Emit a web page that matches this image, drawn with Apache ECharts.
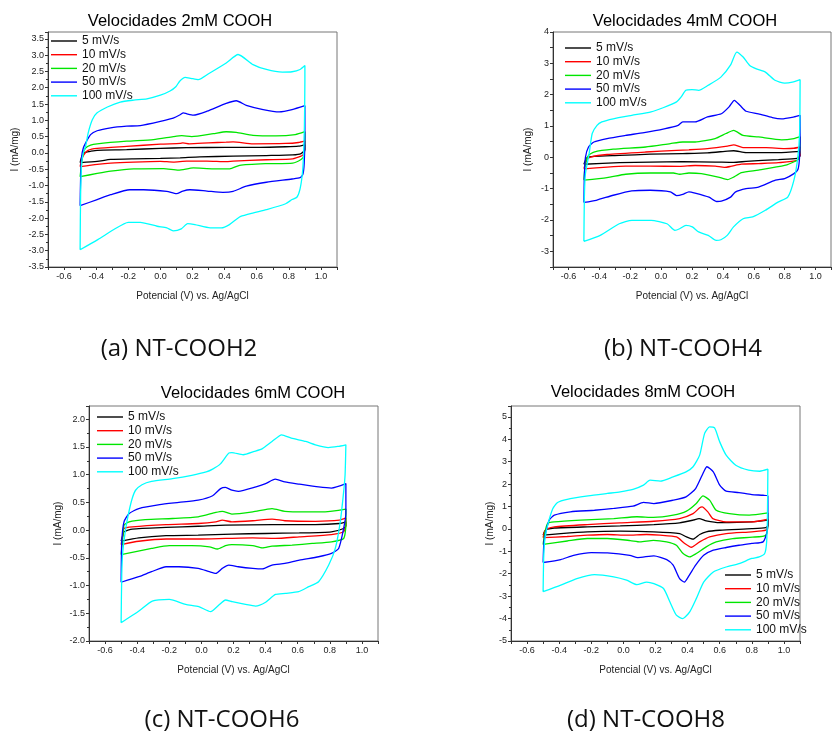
<!DOCTYPE html>
<html>
<head>
<meta charset="utf-8">
<script src="https://cdn.jsdelivr.net/npm/echarts@6/dist/echarts.min.js"></script>
<style>
  html, body { margin: 0; padding: 0; background: #fff; }
  #chart { width: 834px; height: 735px; }
</style>
</head>
<body>
<div id="chart"></div>
<script>
// scan rates / legend entries
var rates = ['5 mV/s', '10 mV/s', '20 mV/s', '50 mV/s', '100 mV/s'];
var titles = ['Velocidades 2mM COOH', 'Velocidades 4mM COOH', 'Velocidades 6mM COOH', 'Velocidades 8mM COOH'];
var captions = ['(a) NT-COOH2', '(b) NT-COOH4', '(c) NT-COOH6', '(d) NT-COOH8'];

// each curve = [potential (V), current (mA/mg)], forward scan then reverse scan
// 2mM
var A5 = [[-0.5,-0.3],[-0.49,-0.12],[-0.475,-0.01],[-0.466,0.02],[-0.435,0.05],[-0.394,0.08],[-0.21,0.1],[0,0.14],[0.164,0.16],[0.41,0.17],[0.62,0.17],[0.78,0.19],[0.86,0.21],[0.9,0.25],
  [0.9,0.1],[0.876,-0.02],[0.824,-0.06],[0.66,-0.08],[0.453,-0.1],[0.246,-0.12],[0.123,-0.15],[0,-0.17],[-0.166,-0.18],[-0.31,-0.2],[-0.394,-0.26],[-0.5,-0.3]];
var A10 = [[-0.5,-0.42],[-0.49,-0.2],[-0.476,-0.05],[-0.451,0.08],[-0.394,0.14],[-0.21,0.2],[0,0.27],[0.123,0.29],[0.14,0.31],[0.18,0.28],[0.3,0.31],[0.41,0.33],[0.453,0.34],[0.577,0.28],[0.78,0.29],[0.86,0.32],[0.9,0.37],
  [0.9,0.15],[0.89,-0.05],[0.876,-0.1],[0.824,-0.18],[0.66,-0.21],[0.453,-0.25],[0.412,-0.27],[0.29,-0.25],[0.164,-0.25],[0.08,-0.28],[0,-0.26],[-0.166,-0.28],[-0.31,-0.31],[-0.394,-0.35],[-0.5,-0.42]];
var A20 = [[-0.5,-0.73],[-0.49,-0.3],[-0.48,0.0],[-0.466,0.15],[-0.435,0.24],[-0.394,0.28],[-0.21,0.36],[-0.043,0.41],[0.08,0.5],[0.133,0.53],[0.195,0.5],[0.33,0.59],[0.41,0.65],[0.473,0.63],[0.577,0.54],[0.72,0.52],[0.84,0.56],[0.9,0.65],
  [0.9,0.3],[0.893,-0.1],[0.876,-0.2],[0.824,-0.31],[0.66,-0.33],[0.494,-0.38],[0.432,-0.49],[0.33,-0.49],[0.205,-0.46],[0.112,-0.53],[0.02,-0.48],[-0.166,-0.49],[-0.31,-0.56],[-0.394,-0.63],[-0.5,-0.73]];
var A50 = [[-0.5,-1.62],[-0.497,-0.8],[-0.49,-0.1],[-0.48,0.15],[-0.466,0.3],[-0.435,0.56],[-0.394,0.68],[-0.31,0.77],[-0.21,0.82],[-0.125,0.84],[0,0.97],[0.08,1.07],[0.123,1.17],[0.143,1.23],[0.165,1.2],[0.205,1.16],[0.29,1.28],[0.41,1.52],[0.473,1.6],[0.535,1.46],[0.64,1.33],[0.74,1.26],[0.82,1.33],[0.9,1.45],
  [0.9,0.5],[0.896,-0.3],[0.888,-0.65],[0.87,-0.76],[0.82,-0.8],[0.66,-0.9],[0.535,-1.02],[0.453,-1.18],[0.39,-1.21],[0.29,-1.17],[0.184,-1.13],[0.14,-1.17],[0.1,-1.25],[0.04,-1.18],[-0.105,-1.13],[-0.19,-1.13],[-0.31,-1.28],[-0.394,-1.43],[-0.5,-1.62]];
var A100 = [[-0.5,-2.97],[-0.497,-1.3],[-0.49,-0.3],[-0.48,0.0],[-0.466,0.2],[-0.45,0.61],[-0.424,1.02],[-0.394,1.23],[-0.33,1.41],[-0.25,1.56],[-0.166,1.62],[-0.084,1.66],[0,1.77],[0.06,1.9],[0.096,2.03],[0.12,2.2],[0.154,2.32],[0.19,2.29],[0.236,2.25],[0.3,2.43],[0.41,2.76],[0.484,3.02],[0.577,2.71],[0.66,2.56],[0.76,2.48],[0.82,2.49],[0.87,2.56],[0.9,2.68],
  [0.9,2.2],[0.897,0.8],[0.892,0.0],[0.885,-0.6],[0.87,-1.1],[0.85,-1.36],[0.82,-1.43],[0.78,-1.56],[0.66,-1.74],[0.58,-1.84],[0.5,-1.95],[0.47,-2.05],[0.43,-2.2],[0.38,-2.3],[0.31,-2.3],[0.215,-2.2],[0.17,-2.17],[0.13,-2.33],[0.08,-2.39],[0.04,-2.3],[-0.02,-2.25],[-0.125,-2.13],[-0.2,-2.13],[-0.29,-2.35],[-0.39,-2.66],[-0.5,-2.97]];

// 4mM
var B5 = [[-0.5,-0.22],[-0.48,-0.01],[-0.435,0.03],[-0.27,0.06],[-0.07,0.1],[0.14,0.12],[0.3,0.14],[0.43,0.2],[0.47,0.21],[0.55,0.15],[0.76,0.15],[0.9,0.19],
  [0.9,0.05],[0.88,-0.03],[0.76,-0.07],[0.55,-0.13],[0.47,-0.16],[0.35,-0.15],[0.14,-0.14],[-0.07,-0.15],[-0.27,-0.17],[-0.5,-0.22]];
var B10 = [[-0.5,-0.36],[-0.48,-0.07],[-0.456,0.01],[-0.35,0.09],[-0.1,0.17],[0.1,0.22],[0.18,0.24],[0.3,0.28],[0.43,0.36],[0.47,0.4],[0.53,0.31],[0.68,0.31],[0.8,0.28],[0.86,0.29],[0.9,0.33],
  [0.9,0.1],[0.88,-0.1],[0.76,-0.17],[0.63,-0.2],[0.52,-0.22],[0.45,-0.29],[0.41,-0.32],[0.35,-0.28],[0.22,-0.26],[0.12,-0.29],[-0.07,-0.28],[-0.23,-0.28],[-0.35,-0.31],[-0.5,-0.37]];
var B20 = [[-0.5,-0.72],[-0.49,-0.2],[-0.47,0.06],[-0.435,0.17],[-0.31,0.26],[-0.1,0.33],[0.06,0.44],[0.14,0.49],[0.22,0.49],[0.35,0.6],[0.42,0.76],[0.47,0.86],[0.53,0.7],[0.63,0.65],[0.78,0.56],[0.86,0.6],[0.9,0.66],
  [0.9,0.3],[0.89,-0.05],[0.88,-0.1],[0.8,-0.26],[0.63,-0.41],[0.52,-0.49],[0.47,-0.63],[0.43,-0.71],[0.37,-0.63],[0.26,-0.52],[0.18,-0.5],[0.12,-0.54],[0.08,-0.5],[-0.07,-0.5],[-0.23,-0.54],[-0.35,-0.65],[-0.5,-0.73]];
var B50 = [[-0.5,-1.44],[-0.497,-0.6],[-0.49,0.0],[-0.47,0.33],[-0.435,0.49],[-0.35,0.6],[-0.23,0.7],[-0.11,0.79],[0.02,0.91],[0.11,1.02],[0.14,1.13],[0.18,1.13],[0.22,1.13],[0.3,1.29],[0.39,1.39],[0.44,1.61],[0.474,1.82],[0.51,1.66],[0.55,1.47],[0.63,1.39],[0.72,1.27],[0.78,1.23],[0.86,1.29],[0.9,1.34],
  [0.9,0.5],[0.895,-0.1],[0.885,-0.4],[0.86,-0.52],[0.8,-0.68],[0.74,-0.73],[0.63,-0.95],[0.55,-1.0],[0.48,-1.11],[0.45,-1.27],[0.39,-1.4],[0.36,-1.41],[0.31,-1.27],[0.22,-1.14],[0.18,-1.1],[0.14,-1.18],[0.1,-1.22],[0.06,-1.1],[-0.07,-1.05],[-0.19,-1.07],[-0.31,-1.21],[-0.42,-1.37],[-0.5,-1.44]];
var B100 = [[-0.5,-2.68],[-0.497,-1.3],[-0.49,-0.52],[-0.466,0.12],[-0.446,0.76],[-0.415,1.02],[-0.384,1.13],[-0.31,1.23],[-0.19,1.34],[-0.065,1.45],[0.017,1.59],[0.1,1.77],[0.13,1.93],[0.16,2.14],[0.2,2.16],[0.243,2.14],[0.305,2.3],[0.387,2.56],[0.449,2.94],[0.49,3.36],[0.531,3.2],[0.572,2.94],[0.613,2.83],[0.675,2.72],[0.737,2.46],[0.8,2.37],[0.85,2.4],[0.9,2.48],
  [0.897,0.8],[0.885,0.0],[0.86,-0.73],[0.82,-1.27],[0.757,-1.43],[0.675,-1.69],[0.593,-1.9],[0.531,-1.96],[0.469,-2.22],[0.428,-2.49],[0.387,-2.63],[0.356,-2.65],[0.305,-2.49],[0.243,-2.38],[0.202,-2.22],[0.161,-2.17],[0.12,-2.28],[0.089,-2.33],[0.038,-2.12],[-0.065,-2.01],[-0.189,-2.01],[-0.271,-2.12],[-0.394,-2.49],[-0.5,-2.68]];

// 6mM
var C5 = [[-0.5,-0.2],[-0.49,-0.1],[-0.482,-0.03],[-0.43,0.02],[-0.22,0.05],[-0.02,0.07],[0.15,0.09],[0.44,0.1],[0.71,0.1],[0.86,0.12],[0.9,0.15],
  [0.9,0.08],[0.886,0.03],[0.81,-0.03],[0.61,-0.05],[0.4,-0.06],[0.19,-0.07],[-0.02,-0.09],[-0.22,-0.1],[-0.39,-0.14],[-0.5,-0.2]];
var C10 = [[-0.5,-0.26],[-0.49,-0.1],[-0.482,0.03],[-0.43,0.06],[-0.22,0.1],[-0.02,0.12],[0.09,0.15],[0.13,0.18],[0.19,0.15],[0.32,0.17],[0.44,0.2],[0.52,0.17],[0.71,0.16],[0.86,0.18],[0.9,0.22],
  [0.9,0.1],[0.886,-0.03],[0.81,-0.08],[0.61,-0.12],[0.46,-0.15],[0.32,-0.14],[0.15,-0.15],[-0.02,-0.16],[-0.22,-0.16],[-0.39,-0.2],[-0.5,-0.26]];
var C20 = [[-0.5,-0.44],[-0.49,-0.15],[-0.482,0.09],[-0.45,0.15],[-0.35,0.19],[-0.18,0.21],[-0.02,0.24],[0.09,0.32],[0.13,0.34],[0.19,0.29],[0.32,0.33],[0.44,0.39],[0.52,0.34],[0.65,0.33],[0.77,0.33],[0.9,0.38],
  [0.9,0.1],[0.886,-0.15],[0.81,-0.21],[0.69,-0.24],[0.565,-0.27],[0.44,-0.29],[0.38,-0.32],[0.32,-0.28],[0.19,-0.26],[0.15,-0.28],[0.1,-0.34],[0.05,-0.3],[-0.06,-0.28],[-0.2,-0.28],[-0.31,-0.33],[-0.5,-0.44]];
var C50 = [[-0.5,-0.94],[-0.496,-0.21],[-0.482,0.15],[-0.45,0.3],[-0.39,0.39],[-0.26,0.46],[-0.14,0.5],[-0.02,0.54],[0.07,0.62],[0.12,0.75],[0.15,0.77],[0.19,0.72],[0.23,0.7],[0.34,0.78],[0.4,0.84],[0.46,0.92],[0.52,0.87],[0.61,0.83],[0.73,0.78],[0.81,0.76],[0.9,0.84],
  [0.9,0.3],[0.886,0.03],[0.855,-0.33],[0.81,-0.42],[0.73,-0.48],[0.61,-0.54],[0.52,-0.6],[0.44,-0.63],[0.38,-0.7],[0.32,-0.69],[0.23,-0.66],[0.17,-0.63],[0.13,-0.69],[0.09,-0.78],[0.05,-0.75],[-0.02,-0.69],[-0.14,-0.66],[-0.22,-0.66],[-0.31,-0.75],[-0.39,-0.84],[-0.5,-0.94]];
var C100 = [[-0.5,-1.67],[-0.496,-0.8],[-0.49,-0.4],[-0.47,0.05],[-0.45,0.35],[-0.43,0.58],[-0.41,0.72],[-0.37,0.82],[-0.31,0.88],[-0.18,0.93],[-0.06,0.99],[0.03,1.05],[0.07,1.1],[0.12,1.2],[0.17,1.39],[0.19,1.4],[0.26,1.36],[0.33,1.42],[0.38,1.47],[0.44,1.6],[0.5,1.72],[0.56,1.66],[0.65,1.6],[0.71,1.54],[0.79,1.49],[0.85,1.51],[0.9,1.54],
  [0.895,1.0],[0.886,0.69],[0.865,0.15],[0.834,-0.33],[0.793,-0.63],[0.73,-0.93],[0.668,-1.02],[0.606,-1.11],[0.523,-1.14],[0.461,-1.16],[0.4,-1.3],[0.337,-1.37],[0.275,-1.34],[0.192,-1.29],[0.15,-1.26],[0.109,-1.35],[0.057,-1.47],[-0.016,-1.38],[-0.098,-1.34],[-0.2,-1.25],[-0.306,-1.28],[-0.389,-1.46],[-0.5,-1.67]];

// 8mM
var D5 = [[-0.5,-0.28],[-0.49,-0.1],[-0.472,-0.01],[-0.43,0.04],[-0.225,0.09],[-0.02,0.13],[0.19,0.19],[0.35,0.27],[0.434,0.39],[0.471,0.46],[0.516,0.36],[0.6,0.28],[0.8,0.31],[0.9,0.39],
  [0.9,0.15],[0.887,0.06],[0.8,0.01],[0.6,-0.06],[0.516,-0.13],[0.475,-0.25],[0.434,-0.46],[0.393,-0.36],[0.351,-0.21],[0.19,-0.13],[-0.02,-0.1],[-0.225,-0.13],[-0.39,-0.21],[-0.5,-0.28]];
var D10 = [[-0.5,-0.39],[-0.49,-0.1],[-0.472,0.01],[-0.43,0.09],[-0.225,0.19],[-0.02,0.27],[0.19,0.34],[0.35,0.46],[0.434,0.68],[0.475,0.94],[0.49,0.98],[0.526,0.76],[0.557,0.46],[0.64,0.31],[0.8,0.31],[0.9,0.43],
  [0.9,0.15],[0.887,-0.06],[0.8,-0.13],[0.64,-0.21],[0.537,-0.36],[0.475,-0.58],[0.423,-0.82],[0.382,-0.65],[0.331,-0.36],[0.228,-0.28],[0.145,-0.25],[0.022,-0.28],[-0.1,-0.25],[-0.225,-0.28],[-0.35,-0.34],[-0.5,-0.39]];
var D20 = [[-0.5,-0.7],[-0.49,-0.2],[-0.472,0.24],[-0.431,0.31],[-0.266,0.39],[-0.06,0.46],[0.084,0.54],[0.187,0.51],[0.31,0.61],[0.393,0.79],[0.454,1.13],[0.496,1.47],[0.537,1.28],[0.578,0.83],[0.66,0.68],[0.784,0.61],[0.9,0.71],
  [0.9,0.3],[0.887,-0.28],[0.804,-0.37],[0.681,-0.43],[0.578,-0.58],[0.516,-0.8],[0.454,-1.1],[0.413,-1.25],[0.372,-1.1],[0.33,-0.73],[0.269,-0.58],[0.187,-0.51],[0.104,-0.58],[0.043,-0.52],[-0.1,-0.43],[-0.225,-0.43],[-0.35,-0.54],[-0.5,-0.69]];
var D50 = [[-0.5,-1.5],[-0.495,-0.6],[-0.483,-0.13],[-0.462,0.39],[-0.43,0.61],[-0.33,0.76],[-0.18,0.83],[-0.06,0.91],[0.06,1.01],[0.125,1.18],[0.19,1.13],[0.31,1.28],[0.39,1.43],[0.45,1.8],[0.5,2.54],[0.52,2.77],[0.56,2.54],[0.6,1.95],[0.64,1.68],[0.72,1.62],[0.8,1.53],[0.87,1.5],[0.9,1.47],
  [0.9,0.6],[0.895,-0.13],[0.87,-0.58],[0.8,-0.65],[0.72,-0.73],[0.64,-0.83],[0.56,-0.95],[0.5,-1.18],[0.45,-1.62],[0.41,-2.07],[0.38,-2.37],[0.35,-2.22],[0.31,-1.62],[0.27,-1.37],[0.19,-1.2],[0.09,-1.28],[0.04,-1.18],[-0.1,-1.07],[-0.2,-1.06],[-0.31,-1.18],[-0.39,-1.37],[-0.5,-1.5]];
var D100 = [[-0.5,-2.8],[-0.496,-1.2],[-0.488,-0.4],[-0.472,0.16],[-0.44,0.9],[-0.41,1.18],[-0.35,1.32],[-0.22,1.47],[-0.1,1.58],[-0.02,1.65],[0.06,1.76],[0.125,1.95],[0.166,2.17],[0.23,2.13],[0.31,2.32],[0.39,2.54],[0.434,2.77],[0.475,3.29],[0.506,4.26],[0.537,4.55],[0.568,4.5],[0.6,3.88],[0.64,3.29],[0.7,2.84],[0.78,2.62],[0.85,2.57],[0.9,2.66],
  [0.897,0.5],[0.892,-0.6],[0.88,-1.1],[0.846,-1.25],[0.8,-1.32],[0.72,-1.55],[0.64,-1.7],[0.56,-1.92],[0.5,-2.37],[0.454,-3.11],[0.413,-3.7],[0.37,-4.0],[0.33,-3.85],[0.29,-3.26],[0.25,-2.66],[0.19,-2.44],[0.145,-2.37],[0.084,-2.49],[0.02,-2.29],[-0.06,-2.14],[-0.18,-2.04],[-0.29,-2.22],[-0.39,-2.51],[-0.5,-2.8]];

var panels = [[A5, A10, A20, A50, A100], [B5, B10, B20, B50, B100], [C5, C10, C20, C50, C100], [D5, D10, D20, D50, D100]];

// y ranges: [min, max, tick interval, label step]
var yRanges = [[-3.5, 3.71, 0.5, 0.5], [-3.5, 4, 0.5, 1], [-2, 2.24, 0.5, 0.5], [-5, 5.48, 1, 1]];

// layout
var colors = ['#000000', '#ff0000', '#00e600', '#0000ff', '#00ffff'];
var gridPos = [[48, 32], [553, 32], [89, 406], [511, 406]];
var legendPos = [[51, 35], [565, 42], [97, 411], [725, 569]];
var yNameGap = [28, 20, 26, 14];
var titlePos = [[180, 21], [685, 21], [253, 393], [643, 392]];
var captionPos = [[179, 349], [683, 349], [222, 720], [646, 720]];

var fontA = '"Liberation Sans", Arial, sans-serif';

function onStep(v, step) {
    var r = v / step;
    return Math.abs(r - Math.round(r)) < 1e-6;
}

var chart = echarts.init(document.getElementById('chart'));

var option = {
    animation: false,
    grid: gridPos.map(function (p) {
        return {left: p[0], top: p[1], width: 289, height: 235, show: true, borderColor: '#777', borderWidth: 1};
    }),
    xAxis: gridPos.map(function (p, i) {
        return {
            gridIndex: i,
            type: 'value',
            min: -0.7,
            max: 1.1,
            interval: 0.1,
            name: 'Potencial (V) vs. Ag/AgCl',
            nameLocation: 'middle',
            nameGap: 24,
            nameTextStyle: {fontFamily: fontA, fontSize: 10, color: '#222'},
            axisLine: {onZero: false, lineStyle: {color: '#333', width: 1}},
            axisTick: {length: 3, lineStyle: {color: '#333'}},
            axisLabel: {
                fontFamily: fontA, fontSize: 9, color: '#222', margin: 5,
                formatter: function (v) { return onStep(v, 0.2) ? v.toFixed(1) : ''; }
            },
            splitLine: {show: false}
        };
    }),
    yAxis: yRanges.map(function (r, i) {
        return {
            gridIndex: i,
            type: 'value',
            min: r[0],
            max: r[1],
            interval: r[2],
            name: 'I (mA/mg)',
            nameLocation: 'middle',
            nameGap: yNameGap[i],
            nameTextStyle: {fontFamily: fontA, fontSize: 10, color: '#222'},
            axisLine: {onZero: false, lineStyle: {color: '#333', width: 1}},
            axisTick: {length: 3, lineStyle: {color: '#333'}},
            minorTick: {show: r[2] === r[3], splitNumber: 2, length: 2, lineStyle: {color: '#333'}},
            axisLabel: {
                fontFamily: fontA, fontSize: 9, color: '#222', margin: 4,
                formatter: function (v) {
                    if (!onStep(v, r[3])) return '';
                    return r[3] < 1 ? v.toFixed(1) : String(Math.round(v));
                }
            },
            splitLine: {show: false}
        };
    }),
    legend: legendPos.map(function (p) {
        return {
            left: p[0], top: p[1], orient: 'vertical', padding: 0,
            itemGap: 1.7, itemWidth: 26, itemHeight: 1.4, icon: 'rect',
            selectedMode: false,
            data: rates,
            textStyle: {fontFamily: fontA, fontSize: 12, color: '#111', lineHeight: 12}
        };
    }),
    graphic: titles.map(function (t, i) {
        return {type: 'text', x: titlePos[i][0], y: titlePos[i][1], silent: true,
            style: {text: t, font: '16.5px "Liberation Sans"', fill: '#000', textAlign: 'center', textVerticalAlign: 'middle'}};
    }).concat(captions.map(function (t, i) {
        return {type: 'text', x: captionPos[i][0], y: captionPos[i][1], silent: true,
            style: {text: t, font: '24px "Open Sans"', fill: '#111', textAlign: 'center', textVerticalAlign: 'middle'}};
    })),
    series: []
};

panels.forEach(function (curves, gi) {
    curves.forEach(function (d, k) {
        option.series.push({
            type: 'line',
            name: rates[k],
            xAxisIndex: gi,
            yAxisIndex: gi,
            data: d,
            showSymbol: false,
            symbol: 'none',
            smooth: 0.2,
            silent: true,
            lineStyle: {width: 1.3, color: colors[k]},
            itemStyle: {color: colors[k]},
            z: 2 + k
        });
    });
});

chart.setOption(option);
</script>
</body>
</html>
